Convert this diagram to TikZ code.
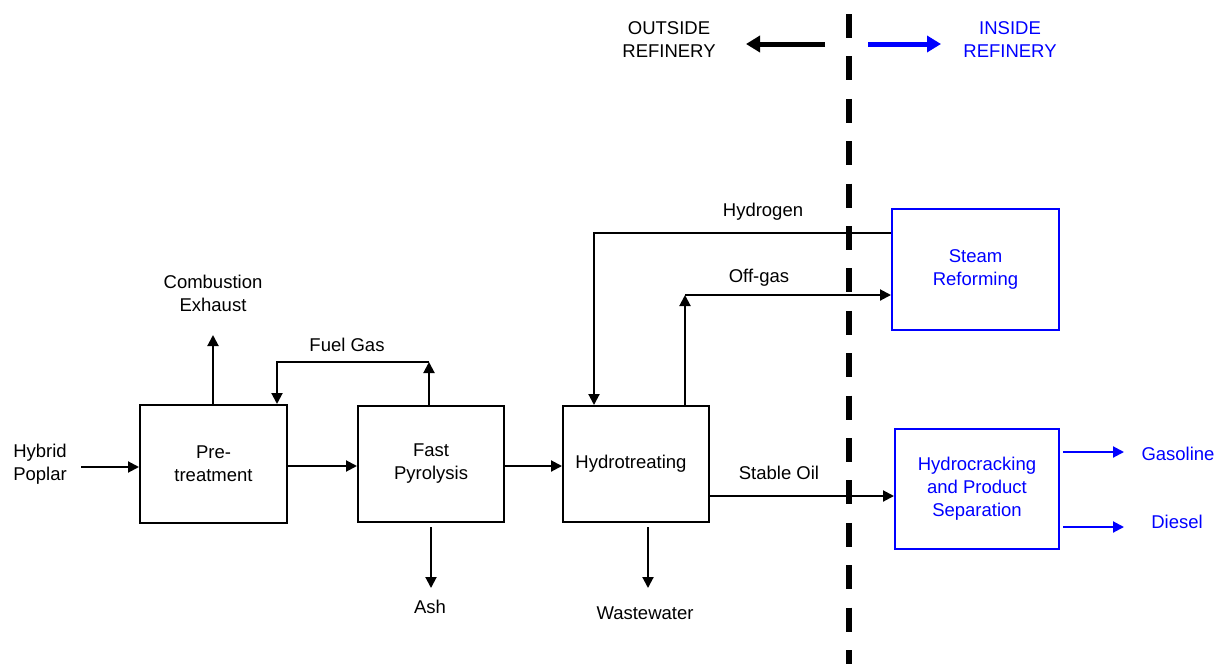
\documentclass[tikz,border=0pt]{standalone}
\usepackage{fontspec}
\setmainfont{Liberation Sans}
\usetikzlibrary{arrows.meta}
\definecolor{pblue}{RGB}{0,0,255}
\tikzset{
  procbox/.style={draw=black, line width=2pt, align=center, inner sep=0pt},
  bluebox/.style={draw=pblue, text=pblue, line width=2pt, align=center, inner sep=0pt},
  lbl/.style={align=center, inner sep=0pt},
  arr/.style={draw=black, line width=2pt, -{Triangle[length=11pt,width=11pt]}},
  barr/.style={draw=pblue, line width=2pt, -{Triangle[length=11pt,width=11pt]}},
  bigarr/.style={line width=5pt, -{Triangle[length=14pt,width=16pt]}},
  sep/.style={line width=6pt, dash pattern=on 24pt off 18.4pt}
}
\begin{document}
\begin{tikzpicture}[x=1pt,y=-1pt,font=\fontsize{18.5}{23}\selectfont]
\useasboundingbox[fill=white] (0,0) rectangle (1221,664);

% boxes
\node[procbox, minimum width=147pt, minimum height=118pt] (pre) at (213.5,464) {Pre-\\treatment};
\node[procbox, minimum width=146pt, minimum height=116pt] (fp) at (431,464) {Fast\\Pyrolysis};
\node[procbox, minimum width=146pt, minimum height=116pt] (ht) at (636,464) {\hspace*{-10pt}Hydrotreating};
\node[bluebox, minimum width=167pt, minimum height=121pt] (sr) at (975.5,269.5) {Steam\\Reforming};
\node[bluebox, minimum width=164pt, minimum height=120pt] (hc) at (977,489) {Hydrocracking\\and Product\\Separation};

% labels
\node[lbl] (hp) at (40,464) {Hybrid\\Poplar};
\node[lbl] (ce) at (213,293) {Combustion\\Exhaust};
\node[lbl] (fgl) at (347,345) {Fuel Gas};
\node[lbl] (ash) at (430,607) {Ash};
\node[lbl] (ww) at (645,613) {Wastewater};
\node[lbl] (h2l) at (763,212) {Hydrogen};
\node[lbl] (ogl) at (759,278) {Off-gas};
\node[lbl] (sol) at (779,473) {Stable Oil};
\node[lbl, text=pblue] (gas) at (1178,454) {Gasoline};
\node[lbl, text=pblue] (dsl) at (1177,522) {Diesel};
\node[lbl] (out) at (669,40) {OUTSIDE\\REFINERY};
\node[lbl, text=pblue] (ins) at (1010,40) {INSIDE\\REFINERY};

% coordinates
\coordinate (hpin) at (81,467);
\coordinate (ceTip) at (213,335);
\coordinate (fg) at (429,362);
\coordinate (fgL) at (277,362);
\coordinate (ashA) at (431,527);
\coordinate (ashB) at (431,588);
\coordinate (wwA) at (648,527);
\coordinate (wwB) at (648,588);
\coordinate (h2) at (594,233);
\coordinate (og) at (685,295);
\coordinate (so) at (709,496);
\coordinate (gA) at (1063,452);
\coordinate (gB) at (1124,452);
\coordinate (dA) at (1063,527);
\coordinate (dB) at (1124,527);
\coordinate (sepT) at (849,14);
\coordinate (sepB) at (849,664);
\coordinate (oA) at (825,44);
\coordinate (oB) at (746,44);
\coordinate (iA) at (868,44);
\coordinate (iB) at (941,44);

% divider
\draw[sep] (sepT) -- (sepB);

% connectors
\draw[arr] (hpin) -- (hpin -| pre.west);
\draw[arr] (pre.north -| ceTip) -- (ceTip);
\draw[arr] (fp.north -| fg) -- (fg);
\draw[arr] (fg) -- (fgL) -- (fgL |- pre.north);
\draw[arr] ([yshift=-2pt]pre.east) -- ([yshift=-2pt]fp.west);
\draw[arr] ([yshift=-2pt]fp.east) -- ([yshift=-2pt]ht.west);
\draw[arr] (ashA) -- (ashB);
\draw[arr] (wwA) -- (wwB);
\draw[arr] (h2 -| sr.west) -- (h2) -- (h2 |- ht.north);
\draw[arr] (og |- ht.north) -- (og);
\draw[arr] (og) -- (og -| sr.west);
\draw[arr] (so) -- (so -| hc.west);
\draw[barr] (gA) -- (gB);
\draw[barr] (dA) -- (dB);

% top arrows
\draw[bigarr, black] (oA) -- (oB);
\draw[bigarr, pblue] (iA) -- (iB);
\end{tikzpicture}
\end{document}
